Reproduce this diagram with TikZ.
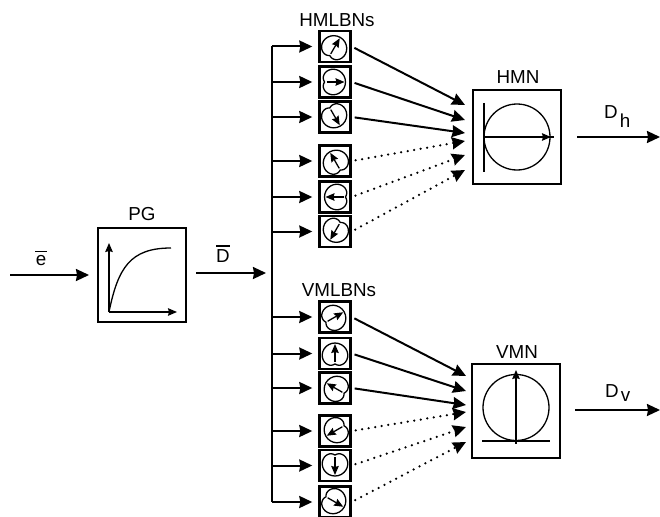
\documentclass[tikz,border=0pt]{standalone}
\usepackage{xcolor}
\usepackage{fontspec}
\setmainfont{Liberation Sans}
\usetikzlibrary{arrows.meta,calc}
\tikzset{
  lbl/.style={font=\fontsize{18.8}{20}\selectfont,inner sep=0pt},
  block/.style={draw,line width=2pt,inner sep=0pt,minimum width=88pt,minimum height=94pt},
  lobebox/.style={draw,line width=2.4pt,inner sep=0pt,minimum width=31pt,minimum height=31pt},
  sig/.style={line width=2pt,-{Stealth[length=13pt,width=12pt,inset=1pt]}},
  bus/.style={line width=1.8pt},
  dotsig/.style={line width=2.5pt,line cap=round,dash pattern=on 0pt off 6.6pt,-{Stealth[length=13pt,width=12pt,inset=1pt,line cap=butt]}},
  thin line/.style={line width=1.3pt},
  tiny arrow/.style={line width=1.3pt,-{Stealth[length=9pt,width=7.5pt,inset=1pt]}}
}
\newcommand{\barred}[1]{\vbox{\hrule height 1.4pt\kern 3pt\hbox{#1}}}
\begin{document}
\begin{tikzpicture}[x=1pt,y=-1pt]
  \useasboundingbox (0,0) rectangle (660,516);
  % blocks
  \node[block] (pg) at (142,275) {};
  \node[block] (hmn) at (517,137) {};
  \node[block] (vmn) at (516,411) {};
  \node[lbl] (pglab) at (142,214) {PG};
  \node[lbl] (hmllab) at (337,20) {HMLBNs};
  \node[lbl] (vmllab) at (339,290) {VMLBNs};
  \node[lbl] (hmnlab) at (518,77) {HMN};
  \node[lbl] (vmnlab) at (517,352) {VMN};
  % lobe boxes
  \foreach \name/\y/\ang in {hml1/46.5/60,hml2/82/0,hml3/117/-60,hml4/161/120,hml5/197/180,hml6/231.5/240,
                             vml1/317/30,vml2/353.5/90,vml3/388/150,vml4/431/210,vml5/465.5/270,vml6/502/330}{
    \node[lobebox] (\name) at (335,\y) {};
    \begin{scope}[shift={(\name)},rotate=\ang,xshift=-8.5pt]
      \draw[thin line] plot[smooth cycle,domain=0:350,samples=36] ({(10.5+8.5*cos(\x))*cos(\x)},{(10.5+8.5*cos(\x))*sin(\x)});
      \draw[tiny arrow] (0,0) -- (18,0);
    \end{scope}
  }
  % input and bus
  \coordinate (ein) at (10,275);
  \coordinate (busin) at (272,273);
  \coordinate (bustop) at (272,46.5);
  \coordinate (busbot) at (272,502);
  \draw[sig,shorten >=8pt] (ein) -- (pg.west);
  \draw[sig,shorten <=9pt,shorten >=6pt] (pg.east |- busin) -- (busin);
  \draw[bus] (bustop) -- (busbot);
  \node[lbl] (elab) at (41,258) {\barred{\hbox to 12pt{\hss e\hss}}};
  \node[lbl] (dlab) at (223,254) {\barred{D}};
  \foreach \name in {hml1,hml2,hml3,hml4,hml5,hml6,vml1,vml2,vml3,vml4,vml5,vml6}{
    \draw[sig,shorten >=6pt] (\name -| busin) -- (\name);
  }
  % connections into the main beams
  \foreach \i/\y in {1/105,2/120,3/133,4/141,5/155,6/170}{
    \coordinate (hin\i) at (465,\y);
  }
  \foreach \i/\y in {1/376,2/391,3/405,4/412,5/427,6/442}{
    \coordinate (vin\i) at (466,\y);
  }
  \foreach \i in {1,2,3}{
    \draw[sig,shorten <=3pt] (hml\i.east) -- (hin\i);
    \draw[sig,shorten <=3pt] (vml\i.east) -- (vin\i);
  }
  \foreach \i in {4,5,6}{
    \draw[dotsig,shorten <=4pt] (hml\i.east) -- (hin\i);
    \draw[dotsig,shorten <=4pt] (vml\i.east) -- (vin\i);
  }
  % outputs
  \coordinate (hout) at (660,137);
  \coordinate (vout) at (660,410);
  \draw[sig,shorten <=15pt] (hmn.east |- hout) -- (hout);
  \draw[sig,shorten <=14pt] (vmn.east |- vout) -- (vout);
  \node[lbl,anchor=base west] (dhlab) at (604,118) {D\kern 2pt\raisebox{-9pt}{h}};
  \node[lbl,anchor=base west] (dvlab) at (605,397) {D\kern 2pt\raisebox{-4pt}{v}};
  % PG curve
  \draw[tiny arrow] (109,312) -- (109,243);
  \draw[tiny arrow] (109,312) -- (177,312);
  \draw[thin line] (109,312) .. controls (118,268) and (130,248) .. (171,248);
  % HMN pattern
  \draw[thin line] (517,137) circle (33);
  \draw[thin line] (484,103) -- (484,172);
  \draw[thin line] (483,137) -- (554,137);
  \draw[tiny arrow] (540,137) -- (551,137);
  % VMN pattern
  \draw[thin line] (516,407.5) circle (33);
  \draw[thin line] (482,441) -- (550,441);
  \draw[tiny arrow] (516,444) -- (516,370);
\end{tikzpicture}
\end{document}
